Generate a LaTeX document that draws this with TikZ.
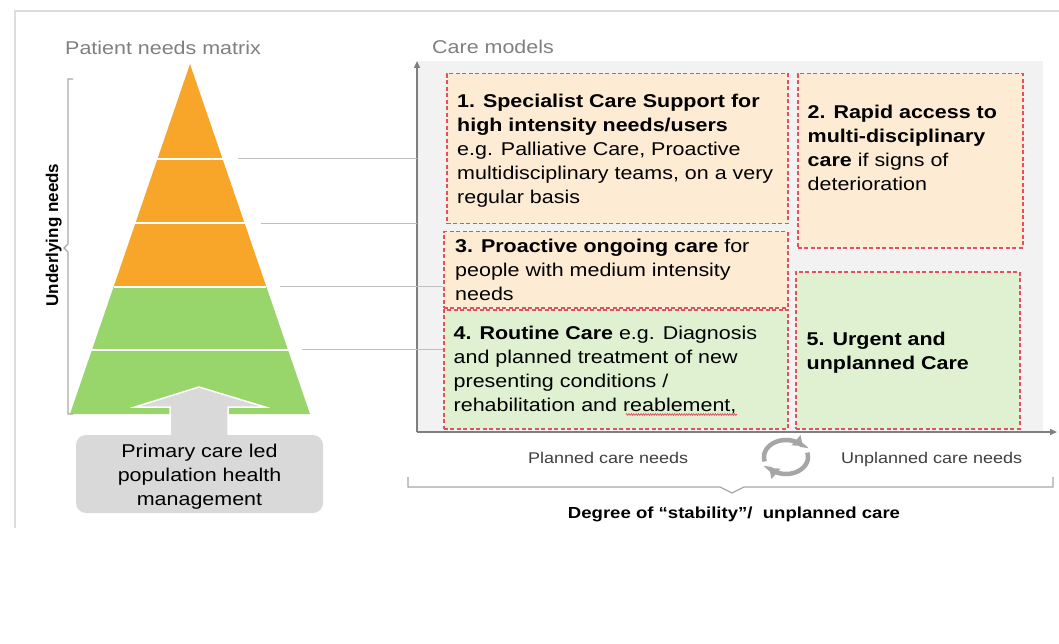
\documentclass[tikz,border=0pt]{standalone}
\usepackage{fontspec}
\setmainfont{Liberation Sans}[FakeStretch=1.16]
\newfontfamily\unstretched{Liberation Sans}
\usetikzlibrary{arrows.meta,calc,decorations.pathmorphing}
\definecolor{pyrorange}{HTML}{F8A62A}
\definecolor{pyrgreen}{HTML}{98D66B}
\definecolor{boxorange}{HTML}{FDEBD3}
\definecolor{boxgreen}{HTML}{DFF1D1}
\definecolor{dashred}{HTML}{E5505E}
\definecolor{panelgray}{HTML}{F2F2F2}
\definecolor{framegray}{HTML}{DCDCDC}
\definecolor{axisgray}{HTML}{7F7F7F}
\definecolor{linkgray}{HTML}{BFBFBF}
\definecolor{titlegray}{HTML}{808080}
\definecolor{labelgray}{HTML}{404040}
\definecolor{primgray}{HTML}{D9D9D9}
\definecolor{cyclegray}{HTML}{A6A6A6}
\definecolor{bracegray}{HTML}{A8A8A8}
\begin{document}
\begin{tikzpicture}[x=1pt,y=-1pt,
  caremodel/.style={draw=dashred, dash pattern=on 4pt off 2.5pt, line width=1.5pt, inner sep=0pt, anchor=north west},
  boxtext/.style={anchor=north west, inner sep=0pt, align=left, text=black, font=\fontsize{18.5}{24}\selectfont},
  titletext/.style={anchor=base west, inner sep=0pt, text=titlegray, font=\fontsize{18.5}{22}\selectfont},
  axislabel/.style={anchor=base west, inner sep=0pt, text=labelgray, font=\fontsize{15.5}{18}\selectfont},
  link/.style={draw=linkgray, line width=1pt},
  axisline/.style={draw=axisgray, line width=1.8pt, -{Triangle[length=7pt,width=6pt]}},
  cyclearrow/.style={draw=cyclegray, line width=4.5pt, -{Triangle[length=9pt,width=13pt]}},
  bracket/.style={draw=bracegray, line width=1.3pt}
]
\useasboundingbox (0,0) rectangle (1059,644);
\fill[white] (0,0) rectangle (1059,644);

% outer frame
\draw[framegray, line width=1.5pt] (15,528) -- (15,11) -- (1059,11);

% titles
\node[titletext] (ptitle) at (65,55) {Patient needs matrix};
\node[titletext] (ctitle) at (432,54) {Care models};

% pyramid
\coordinate (apex) at (190,64);
\coordinate (pbl) at (70,414);
\coordinate (pbr) at (310,414);
\coordinate (l1) at ($(apex)!0.2714!(pbl)$);
\coordinate (r1) at ($(apex)!0.2714!(pbr)$);
\coordinate (l2) at ($(apex)!0.4543!(pbl)$);
\coordinate (r2) at ($(apex)!0.4543!(pbr)$);
\coordinate (l3) at ($(apex)!0.6371!(pbl)$);
\coordinate (r3) at ($(apex)!0.6371!(pbr)$);
\coordinate (l4) at ($(apex)!0.8171!(pbl)$);
\coordinate (r4) at ($(apex)!0.8171!(pbr)$);
\fill[pyrorange] (apex) -- (r3) -- (l3) -- cycle;
\fill[pyrgreen] (l3) -- (r3) -- (pbr) -- (pbl) -- cycle;
\draw[white, line width=1.5pt] (l1) -- (r1) (l2) -- (r2) (l3) -- (r3) (l4) -- (r4);

% left bracket and label
\draw[bracket] (73,79) -- (68,79) -- (68,244) -- (64,248) -- (68,252) -- (68,414) -- (73,414);
\node[rotate=90, anchor=base, inner sep=0pt, font=\unstretched\bfseries\fontsize{17}{20}\selectfont] (uneeds) at (58,235) {Underlying needs};

% block arrow and primary care box
\filldraw[fill=primgray, draw=white, line width=1.5pt] (199,387) -- (265,407) -- (228,407) -- (228,440) -- (170,440) -- (170,407) -- (135,407) -- cycle;
\node[fill=primgray, rounded corners=10pt, minimum width=247, minimum height=78, inner sep=0pt] (prim) at (199.5,474) {};
\node[anchor=north, align=center, inner sep=0pt, font=\fontsize{18.5}{24}\selectfont] (primtext) at (199.5,440.2) {\strut Primary care led\\population health\\management};

% care model panel and axes
\node[fill=panelgray, minimum width=626, minimum height=371, anchor=north west, inner sep=0pt] (panel) at (417,61) {};
\coordinate (origin) at (417,432);
\coordinate (ytip) at (417,61);
\coordinate (xtip) at (1057,432);

% boxes
\node[caremodel, fill=boxorange, minimum width=341, minimum height=150] (m1) at (446,73) {};
\node[caremodel, fill=boxorange, minimum width=225, minimum height=174] (m2) at (797,73) {};
\node[caremodel, fill=boxorange, minimum width=344, minimum height=76] (m3) at (443,231) {};
\node[caremodel, fill=boxgreen, minimum width=344, minimum height=119] (m4) at (443,309) {};
\node[caremodel, fill=boxgreen, minimum width=224, minimum height=157] (m5) at (795,271) {};

\node[boxtext] (t1) at (457,90.2) {\strut\textbf{1. Specialist Care Support for}\\\textbf{high intensity needs/users}\\e.g. Palliative Care, Proactive\\multidisciplinary teams, on a very\\regular basis};
\node[boxtext] (t2) at (807.5,101.2) {\strut\textbf{2. Rapid access to}\\\textbf{multi-disciplinary}\\\textbf{care} if signs of\\deterioration};
\node[boxtext] (t3) at (455,235.2) {\strut\textbf{3. Proactive ongoing care} for\\people with medium intensity\\needs};
\node[boxtext] (t4) at (453.5,322.2) {\strut\textbf{4. Routine Care} e.g. Diagnosis\\and planned treatment of new\\presenting conditions /\\rehabilitation and reablement,};
\node[boxtext] (t5) at (806.5,328.2) {\strut\textbf{5. Urgent and}\\\textbf{unplanned Care}};
\draw[dashred, line width=0.7pt, decorate, decoration={zigzag, amplitude=0.9pt, segment length=2.4pt}] (626,414.5) -- (737,414.5);

% axes
\draw[axisline] (origin) -- (ytip);
\draw[axisline] (origin) -- (xtip);

% connectors from pyramid levels
\draw[link] ($(r1)+(15,0)$) -- (r1 -| origin);
\draw[link] ($(r2)+(16,0)$) -- (r2 -| origin);
\draw[link] ($(r3)+(14,0)$) -- (r3 -| m3.west);
\draw[link] ($(r4)+(14,0)$) -- (r4 -| m4.west);

% axis labels
\node[axislabel] (planned) at (528,463) {Planned care needs};
\node[axislabel] (unplanned) at (841,463) {Unplanned care needs};

% cycle icon
\draw[cyclearrow] plot[domain=195:40, samples=30, smooth] ({786+22*cos(\x)}, {457-17*sin(\x)});
\draw[cyclearrow] plot[domain=15:-140, samples=30, smooth] ({786+22*cos(\x)}, {457-17*sin(\x)});

% bottom brace and label
\draw[bracket] (408,477) -- (408,487) -- (720,487) -- (732,493) -- (744,487) -- (1053,487) -- (1053,477);
\node[anchor=base, inner sep=0pt, font=\bfseries\fontsize{16}{19}\selectfont] (degree) at (734,518) {Degree of “stability”/ \ unplanned care};
\end{tikzpicture}
\end{document}
